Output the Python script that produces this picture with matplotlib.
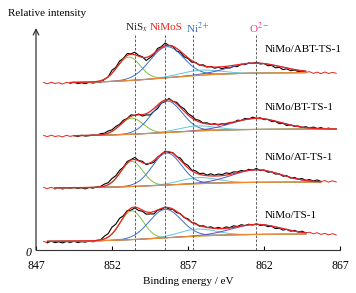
import matplotlib.pyplot as plt
import numpy as np

plt.rcParams['font.family'] = ['Liberation Serif', 'DejaVu Serif']
plt.rcParams['mathtext.fontset'] = 'stix'

# --- data: raw spectra (arbitrary offset units) ---
energy = np.arange(847.5, 866.76, 0.25)

abt = [167.5, 166.2, 167.8, 166.5, 167.3, 166.0, 167.6, 166.8, 167.9, 166.4,
       167.2, 166.3, 167.8, 166.9, 167.9, 167.4, 170.6, 173.2, 179.8, 182.6,
       188.9, 191.7, 196.4, 196.2, 197.8, 194.6, 193.2, 189.5, 192.4, 195.3,
       201.6, 203.3, 207.0, 204.4, 203.8, 199.1, 197.6, 193.2, 191.5, 187.8,
       187.6, 184.8, 185.2, 182.9, 183.6, 181.8, 182.7, 181.3, 182.6, 181.9,
       183.7, 183.4, 185.8, 185.3, 187.1, 186.4, 187.8, 186.0, 186.5, 184.3,
       184.6, 182.2, 182.7, 180.4, 181.2, 179.3, 180.1, 178.4, 179.0, 177.6,
       178.3, 176.6, 177.9, 176.4, 178.0, 176.5, 177.6, 176.8]
bt = [114.6, 113.3, 114.9, 113.5, 114.2, 113.1, 114.7, 113.6, 114.5, 113.4,
      114.8, 113.9, 114.3, 115.1, 114.6, 116.4, 116.8, 119.0, 120.2, 123.5,
      125.7, 129.8, 131.5, 135.2, 134.6, 136.0, 133.9, 135.1, 135.0, 138.6,
      141.5, 146.9, 148.4, 151.6, 148.5, 147.8, 143.6, 141.2, 136.5, 134.0,
      130.6, 129.6, 127.0, 127.2, 125.6, 126.3, 125.0, 126.4, 125.5, 127.6,
      127.4, 129.8, 129.5, 131.6, 130.9, 132.8, 131.6, 132.2, 130.4, 130.6,
      128.5, 128.6, 126.4, 126.7, 124.5, 125.2, 123.6, 124.0, 122.5, 123.3,
      122.0, 122.9, 121.5, 122.4, 121.0, 121.9, 120.7, 121.4]
at = [62.6, 61.3, 62.8, 61.2, 62.5, 61.0, 62.4, 61.5, 62.7, 61.4,
      62.3, 61.1, 62.6, 61.8, 63.4, 63.6, 65.9, 67.3, 71.5, 74.3,
      79.6, 82.8, 88.5, 90.4, 92.6, 89.5, 88.7, 85.4, 86.6, 87.5,
      92.8, 95.4, 98.9, 97.6, 97.3, 93.4, 91.8, 86.9, 84.6, 79.8,
      79.2, 76.4, 76.8, 74.9, 76.2, 74.8, 76.0, 75.4, 77.1, 76.5,
      78.2, 77.9, 79.6, 78.8, 80.7, 79.8, 81.6, 79.4, 80.1, 77.8,
      78.3, 75.9, 76.2, 73.8, 74.3, 71.9, 72.6, 70.8, 71.5, 69.7,
      70.4, 69.0, 70.1, 68.5, 69.4, 67.9, 69.2, 68.1]
ts = [8.6, 7.3, 8.8, 7.4, 8.2, 7.1, 8.5, 7.6, 8.7, 7.5,
      8.3, 7.9, 8.9, 8.2, 9.6, 10.2, 13.8, 16.4, 22.9, 25.8,
      31.7, 34.3, 39.4, 39.8, 42.1, 39.5, 38.7, 35.8, 36.1, 36.0,
      39.8, 40.4, 43.1, 41.0, 40.7, 37.4, 36.3, 32.4, 31.2, 27.4,
      26.7, 23.8, 24.3, 22.4, 23.2, 21.5, 22.6, 21.4, 23.1, 22.4,
      24.2, 23.5, 25.3, 24.4, 25.8, 24.9, 26.2, 24.6, 25.1, 23.4,
      23.7, 21.4, 21.8, 19.9, 20.7, 18.8, 19.7, 18.0, 18.8, 17.1,
      17.8, 16.2, 17.3, 15.6, 16.6, 15.2, 16.3, 15.1]

spectra = [abt, bt, at, ts]
names = ['NiMo/ABT-TS-1', 'NiMo/BT-TS-1', 'NiMo/AT-TS-1', 'NiMo/TS-1']
name_y = [200, 143, 92, 35]

# fit window and background for each spectrum
fit_start = [849.25, 849.5, 848.25, 847.75]
fit_end = [864.75, 866.75, 865.75, 864.75]
bg_low = [167, 114, 62, 8.5]
bg_high = [177.5, 121, 68, 16]

# fitted peaks: NiSx, NiMoS, Ni2+, O2- satellite
peak_pos = [[853.1, 855.6, 857.8, 861.4],
            [853.3, 855.6, 857.6, 861.5],
            [853.3, 855.6, 857.7, 861.5],
            [853.3, 855.5, 857.6, 861.5]]
peak_height = [[23.5, 31, 5, 10],
               [16, 31.5, 5, 11],
               [25, 32, 6, 12.5],
               [28.7, 28.5, 7, 10]]
peak_width = [[0.75, 1.1, 1.3, 1.7],
              [0.75, 1.0, 1.2, 1.6],
              [0.72, 0.95, 1.2, 1.6],
              [0.75, 1.05, 1.2, 1.6]]
peak_colors = ['#7cc243', '#3d6fc5', '#5ec8d8', '#5b4fc4']

# reference lines and their labels
line_pos = [853.5, 855.5, 857.3, 861.5]
label_pos = [853.62, 855.55, 857.65, 861.65]
line_labels = ['NiS$_x$', 'NiMoS', 'Ni$^{2+}$', 'O$^{2-}$']
line_colors = ['#222222', '#e8231f', '#3d6fc5', '#e8368f']

# --- plot ---
fig = plt.figure(figsize=(3.56, 2.93), dpi=100)
ax = fig.add_axes([36 / 356, 43 / 293, 304 / 356, 222 / 293])

for k in range(4):
    y = np.array(spectra[k])
    inside = (energy >= fit_start[k]) & (energy <= fit_end[k])
    left = energy <= fit_start[k]
    right = energy >= fit_end[k]
    ax.plot(energy[left], y[left], color='#e8231f', lw=0.7)
    ax.plot(energy[right], y[right], color='#e8231f', lw=0.7)
    ax.plot(energy[inside], y[inside], color='black', lw=0.8)

    x = np.linspace(fit_start[k], fit_end[k], 300)
    bg = bg_low[k] + (bg_high[k] - bg_low[k]) * 0.5 * (1 + np.tanh((x - 855.6) / 4.2))
    total = bg.copy()
    for j in range(4):
        g = peak_height[k][j] * np.exp(-0.5 * ((x - peak_pos[k][j]) / peak_width[k][j]) ** 2)
        total += g
        ax.plot(x, bg + g, color=peak_colors[j], lw=0.7)
    ax.plot(x, bg, color='#f08a30', lw=0.9)
    ax.plot(x, total, color='#e8231f', lw=0.9)

    ax.text(862.05, name_y[k], names[k], fontsize=8, va='center', ha='left')

for p, lp, lab, c in zip(line_pos, label_pos, line_labels, line_colors):
    ax.plot([p, p], [0, 215], color='#444444', ls=(0, (3, 2)), lw=0.6)
    ax.text(lp, 222, lab, color=c, fontsize=8, ha='center', va='center')

ax.set_xlim(847, 867)
ax.set_ylim(0, 222)
ax.set_xticks([847, 852, 857, 862, 867])
ax.tick_params(axis='x', direction='in', length=3, labelsize=8.5, pad=7)
ax.set_yticks([])
for s in ['top', 'right', 'left']:
    ax.spines[s].set_visible(False)
ax.spines['bottom'].set_color('#333333')
ax.annotate('', xy=(0, 1.0), xytext=(0, 0), xycoords='axes fraction',
            arrowprops=dict(arrowstyle='->', color='#333333', lw=0.9,
                            shrinkA=0, shrinkB=0))
ax.set_xlabel('Binding energy / eV', fontsize=8, labelpad=4)
fig.text(8 / 356, 1 - 14 / 293, 'Relative intensity', fontsize=8, va='center', ha='left')
fig.text(28 / 356, 1 - 253 / 293, '0', fontsize=8.5, style='italic', va='center', ha='center')

fig.savefig('out.png', dpi=100)
